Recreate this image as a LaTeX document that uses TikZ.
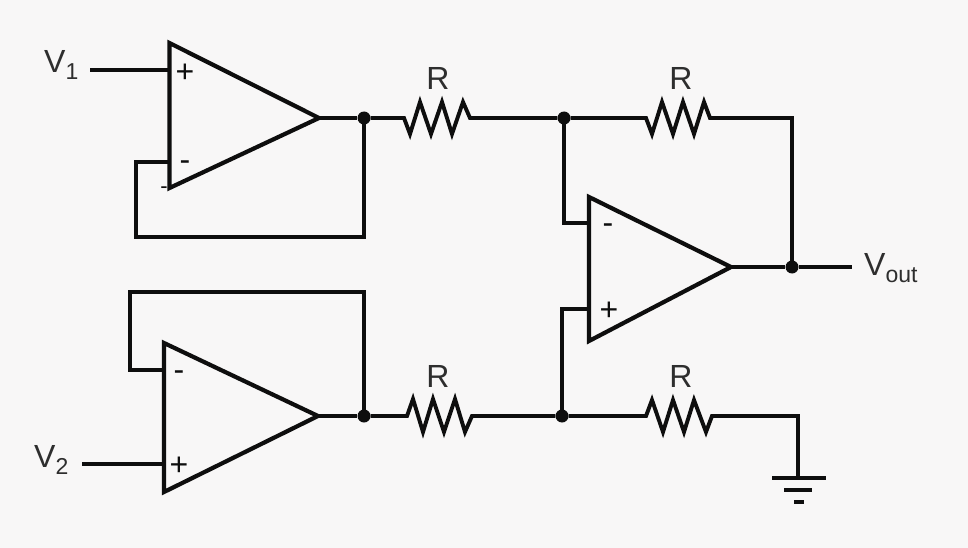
\documentclass[tikz,border=0pt]{standalone}
\usepackage{fontspec}
\setmainfont{Liberation Sans}
\definecolor{ink}{HTML}{0E0E0E}
\definecolor{lab}{HTML}{2E2E2E}
\definecolor{paper}{HTML}{F8F7F7}
\tikzset{
  x=1pt,y=-1pt,
  wire/.style={draw=ink,line width=3.9pt,line join=miter},
  opamp/.style={draw=ink,line width=4.2pt,line join=miter},
  junction/.style={circle,fill=ink,inner sep=0pt,minimum size=13pt},
  lbl/.style={text=lab,inner sep=0pt,font=\fontsize{32}{32}\selectfont},
  sgn/.style={text=ink,inner sep=0pt,font=\fontsize{32}{32}\selectfont},
}
\newcommand{\subs}[1]{\raisebox{-7pt}{\fontsize{23}{23}\selectfont #1}}
\begin{document}
\begin{tikzpicture}
\useasboundingbox (0,0) rectangle (968,548);
\fill[paper] (0,0) rectangle (968,548);
% junctions
\node[junction] (j1) at (364,118) {};
\node[junction] (j2) at (564,118) {};
\node[junction] (j3) at (792,267) {};
\node[junction] (j4) at (364,416) {};
\node[junction] (j5) at (562,416) {};
% free points
\coordinate (a1) at (319,118);
\coordinate (a2) at (318,416);
\coordinate (a3) at (731,267);
\coordinate (in1) at (90,70);
\coordinate (in2) at (82,464);
\coordinate (out) at (852,267);
\coordinate (gnd) at (798,478);
% amplifiers
\draw[opamp] (169.5,43) -- (a1) -- (169.5,188) -- cycle;
\draw[opamp] (164,343) -- (a2) -- (164,492) -- cycle;
\draw[opamp] (589,197) -- (a3) -- (589,341) -- cycle;
% inputs and feedback
\draw[wire] (in1) -- (169.5,70);
\draw[wire] (in2) -- (164,464);
\draw[wire] (169.5,162) -- (136,162) -- (136,237) -- (364,237) -- (j1.center);
\draw[wire] (164,370) -- (130,370) -- (130,292) -- (364,292) -- (j4.center);
\draw[wire] (a1) -- (j1);
\draw[wire] (a2) -- (j4);
\draw[wire] (a3) -- (j3) -- (out);
% resistors
\draw[wire] (j1) -- (404,118) -- (410,134) -- (420,102) -- (431,134) -- (442,102) -- (452,134) -- (463,102) -- (470,118) -- (j2);
\draw[wire] (j2) -- (646,118) -- (652,134) -- (662,102) -- (673,134) -- (683,102) -- (694,134) -- (704,102) -- (710,118) -- (792,118) -- (j3.center);
\draw[wire] (j4) -- (407,416) -- (413,399) -- (423,432) -- (433,399) -- (444,432) -- (455,399) -- (465,432) -- (472,416) -- (j5);
\draw[wire] (j5) -- (646,416) -- (652,400) -- (663,432) -- (673,400) -- (684,432) -- (694,400) -- (706,432) -- (712,416) -- (798,416) -- (gnd);
% branches to third amplifier
\draw[wire] (j2.center) -- (564,223) -- (589,223);
\draw[wire] (j5.center) -- (562,309) -- (589,309);
% ground
\draw[wire] (772,478) -- (826,478);
\draw[wire] (784,490) -- (812,490);
\draw[wire] (794,502) -- (804,502);
% labels
\node[lbl,anchor=base west] (v1) at (44,73) {V\subs{1}};
\node[lbl,anchor=base west] (v2) at (34,467) {V\subs{2}};
\node[lbl,anchor=base west] (vo) at (864,275) {V\subs{out}};
\node[lbl] (r1) at (438,78) {R};
\node[lbl] (r2) at (681,78) {R};
\node[lbl] (r3) at (438,376) {R};
\node[lbl] (r4) at (681,376) {R};
\node[sgn] (p1) at (185,73) {+};
\node[sgn] (m1) at (185,166) {-};
\node[sgn,font=\fontsize{22}{22}\selectfont] (m1b) at (164,190) {-};
\node[sgn] (p2) at (179,466) {+};
\node[sgn] (m2) at (179,376) {-};
\node[sgn] (m3) at (608,229) {-};
\node[sgn] (p3) at (609,311) {+};
\end{tikzpicture}
\end{document}
